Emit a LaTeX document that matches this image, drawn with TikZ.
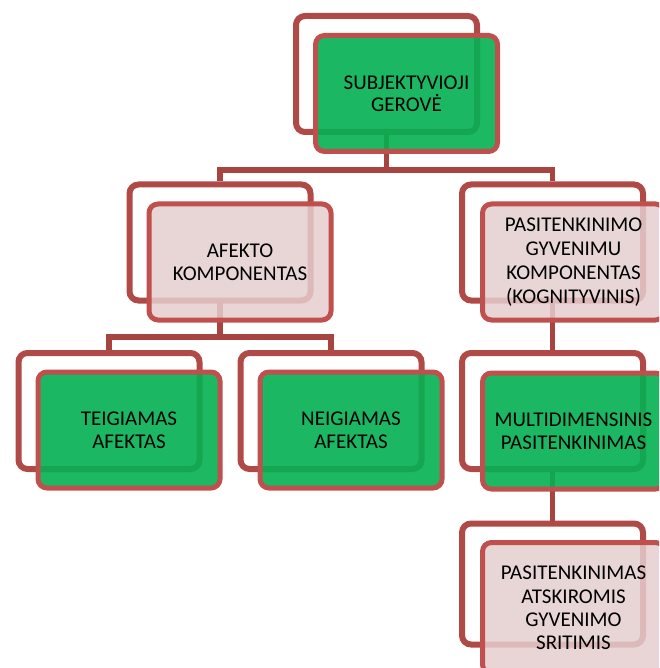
\documentclass[tikz,border=0pt]{standalone}
\usepackage{fontspec}
\setmainfont{Carlito}
\usetikzlibrary{shadows,backgrounds}
\definecolor{bordr}{RGB}{192,80,77}
\definecolor{backr}{RGB}{176,74,71}
\definecolor{connr}{RGB}{168,68,64}
\definecolor{gfill}{RGB}{4,176,81}
\definecolor{pfill}{RGB}{229,206,206}
\tikzset{
  backbox/.style={draw=backr, line width=6pt, fill=white, rounded corners=9pt,
    minimum width=181pt, minimum height=116pt, inner sep=0pt,
    drop shadow={opacity=0.2, shadow xshift=1.5pt, shadow yshift=-2pt}},
  frontbox/.style={draw=bordr, line width=5pt, rounded corners=9pt,
    minimum width=182pt, minimum height=116pt, inner sep=0pt, align=center,
    font=\fontsize{21}{23.3}\selectfont, text=black},
  greenbox/.style={frontbox, fill=gfill, fill opacity=0.9, text opacity=1},
  pinkbox/.style={frontbox, fill=pfill, fill opacity=0.85, text opacity=1},
  conn/.style={draw=connr, line width=5.5pt}
}
\begin{document}
\begin{tikzpicture}[x=1pt,y=-1pt]
\useasboundingbox (0,0) rectangle (659,668);
\clip (0,0) rectangle (659,668);
% junctions
\coordinate (j1) at (386.5,170);
\coordinate (j2) at (220,337);
% back boxes
\node[backbox] (topb) at (386.5,74) {};
\node[backbox] (afeb) at (220,242.5) {};
\node[backbox] (pasb) at (552.5,242.5) {};
\node[backbox] (teib) at (109,411) {};
\node[backbox] (neib) at (331,411) {};
\node[backbox] (mulb) at (552.5,411) {};
\node[backbox, minimum height=121pt] (atsb) at (552.5,584) {};
% connectors (drawn behind back boxes)
\begin{scope}[on background layer]
\draw[conn] (topb.center) -- (j1);
\draw[conn] (afeb.north) |- (j1) -| (pasb.north);
\draw[conn] (afeb.center) -- (j2);
\draw[conn] (teib.north) |- (j2) -| (neib.north);
\draw[conn] (pasb.center) -- (mulb.north);
\draw[conn] (mulb.center) -- (atsb.north);
\end{scope}
% front boxes
\node[greenbox, font=\fontsize{21}{22}\selectfont] (top) at (406.5,93.5) {SUBJEKTYVIOJI\\GEROVĖ};
\node[pinkbox] (afe) at (240,262) {AFEKTO\\KOMPONENTAS};
\node[pinkbox, font=\fontsize{21}{24}\selectfont] (pas) at (573.5,262) {PASITENKINIMO\\GYVENIMU\\KOMPONENTAS\\(KOGNITYVINIS)};
\node[greenbox] (tei) at (129,430) {TEIGIAMAS\\AFEKTAS};
\node[greenbox] (nei) at (351,430) {NEIGIAMAS\\AFEKTAS};
\node[greenbox] (mul) at (573.5,431) {MULTIDIMENSINIS\\PASITENKINIMAS};
\node[pinkbox, minimum height=131pt] (ats) at (573.5,608) {PASITENKINIMAS\\ATSKIROMIS\\GYVENIMO\\SRITIMIS};
\end{tikzpicture}
\end{document}
